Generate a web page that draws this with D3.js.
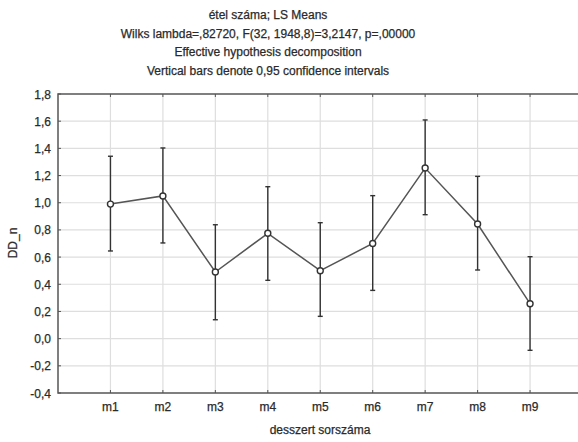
<!DOCTYPE html>
<html><head><meta charset="utf-8">
<script src="https://cdn.jsdelivr.net/npm/d3@7"></script>
<style>body{margin:0;background:#fff}svg{display:block}text{font-family:"Liberation Sans",Arial,sans-serif;fill:#2a2a2a;stroke:#2a2a2a;stroke-width:0.25px}</style>
</head><body><svg id="c" width="578" height="442"></svg>
<script>
const categories = ["m1","m2","m3","m4","m5","m6","m7","m8","m9"];
const means = [0.99,1.05,0.49,0.775,0.50,0.70,1.255,0.843,0.257];
const upper = [1.342,1.403,0.838,1.118,0.853,1.052,1.609,1.194,0.603];
const lower = [0.645,0.704,0.139,0.429,0.164,0.355,0.912,0.505,-0.086];
const yTicks = [-0.4,-0.2,0,0.2,0.4,0.6,0.8,1.0,1.2,1.4,1.6,1.8];
const titles = ["étel száma; LS Means","Wilks lambda=,82720, F(32, 1948,8)=3,2147, p=,00000","Effective hypothesis decomposition","Vertical bars denote 0,95 confidence intervals"];
const xTitle = "desszert sorszáma", yTitle = "DD_n";

const svg = d3.select("#c");
const L=58, R=582.5, T=94, B=393;
const x = d3.scaleLinear().domain([0,10]).range([L,R]);
const y = d3.scaleLinear().domain([-0.4,1.8]).range([B,T]);
const fmt = v => d3.format(".1f")(v).replace(".",",").replace("−","-");

// grid
svg.append("g").selectAll("line").data(yTicks.slice(1,-1)).join("line")
 .attr("x1",L).attr("x2",R).attr("y1",d=>y(d)).attr("y2",d=>y(d)).attr("stroke","#dedede").attr("stroke-width",1.2);
svg.append("g").selectAll("line").data(categories).join("line")
 .attr("x1",(d,i)=>x(i+1)).attr("x2",(d,i)=>x(i+1)).attr("y1",T).attr("y2",B).attr("stroke","#dedede").attr("stroke-width",1.2);

// ticks inside
svg.append("g").selectAll("line").data(yTicks).join("line")
 .attr("x1",L).attr("x2",L+3).attr("y1",d=>y(d)).attr("y2",d=>y(d)).attr("stroke","#555");
svg.append("g").selectAll("line").data(categories).join("line")
 .attr("x1",(d,i)=>x(i+1)).attr("x2",(d,i)=>x(i+1)).attr("y1",T).attr("y2",T+3).attr("stroke","#555");
svg.append("g").selectAll("line").data(categories).join("line")
 .attr("x1",(d,i)=>x(i+1)).attr("x2",(d,i)=>x(i+1)).attr("y1",B).attr("y2",B-3).attr("stroke","#555");

// frame
svg.append("rect").attr("x",L).attr("y",T).attr("width",R-L).attr("height",B-T)
 .attr("fill","none").attr("stroke","#555").attr("stroke-width",1.5);

// y labels
svg.append("g").selectAll("text").data(yTicks).join("text")
 .attr("x",51).attr("y",d=>y(d)+4.5).attr("text-anchor","end").attr("font-size",12).text(fmt);
// x labels
svg.append("g").selectAll("text").data(categories).join("text")
 .attr("x",(d,i)=>x(i+1)).attr("y",411).attr("text-anchor","middle").attr("font-size",12).text(d=>d);

svg.append("text").attr("x",320).attr("y",434).attr("text-anchor","middle").attr("font-size",12).text(xTitle);
svg.append("text").attr("transform","translate(17,243) rotate(-90)").attr("text-anchor","middle").attr("font-size",12).text(yTitle);

svg.append("g").selectAll("text").data(titles).join("text")
 .attr("x",268).attr("y",(d,i)=>19+i*18.7).attr("text-anchor","middle").attr("font-size",12).text(d=>d);

// line
svg.append("path").datum(means).attr("fill","none").attr("stroke","#555").attr("stroke-width",1.5)
 .attr("d",d3.line().x((d,i)=>x(i+1)).y(d=>y(d)));

// error bars
const eb = svg.append("g").attr("stroke","#333").attr("stroke-width",1.4);
categories.forEach((c,i)=>{
  const cx=x(i+1);
  eb.append("line").attr("x1",cx).attr("x2",cx).attr("y1",y(lower[i])).attr("y2",y(upper[i]));
  eb.append("line").attr("x1",cx-2.5).attr("x2",cx+2.5).attr("y1",y(lower[i])).attr("y2",y(lower[i]));
  eb.append("line").attr("x1",cx-2.5).attr("x2",cx+2.5).attr("y1",y(upper[i])).attr("y2",y(upper[i]));
});
svg.append("g").selectAll("circle").data(means).join("circle")
 .attr("cx",(d,i)=>x(i+1)).attr("cy",d=>y(d)).attr("r",3)
 .attr("fill","#fff").attr("stroke","#333").attr("stroke-width",1.4);
</script></body></html>
